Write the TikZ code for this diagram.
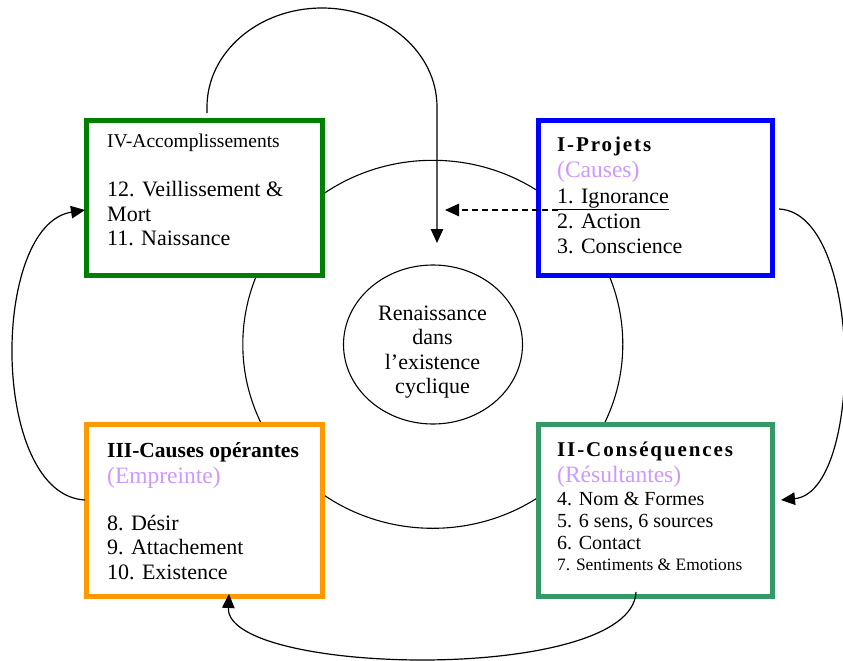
\documentclass[tikz,border=0pt]{standalone}
\usepackage{fontspec}
\setmainfont{Liberation Serif}
\newfontfamily\hdfont[LetterSpace=9]{Liberation Serif}
\usetikzlibrary{arrows.meta,shapes.geometric}
\definecolor{cgreen}{HTML}{008000}
\definecolor{cblue}{HTML}{0000FF}
\definecolor{corange}{HTML}{FF9900}
\definecolor{csea}{HTML}{339966}
\definecolor{clav}{HTML}{CC99FF}
\begin{document}
\begin{tikzpicture}[x=1pt,y=-1pt,
  box/.style={draw, fill=white, line width=5pt, rectangle, inner sep=0pt},
  ring/.style={draw, ellipse, line width=1.1pt, inner sep=0pt},
  txt/.style={anchor=base west, inner sep=0pt, font=\fontsize{22pt}{24.5pt}\selectfont},
  small/.style={txt, font=\fontsize{20pt}{22pt}\selectfont},
  tiny/.style={txt, font=\fontsize{17.4pt}{20pt}\selectfont},
  sub/.style={txt, text=clav, font=\fontsize{23.5pt}{26pt}\selectfont},
  head/.style={txt, font=\fontsize{21pt}{24pt}\hdfont\bfseries},
  headp/.style={txt, font=\fontsize{21.5pt}{24pt}\selectfont\bfseries},
  ctxt/.style={anchor=base, inner sep=0pt, font=\fontsize{22pt}{24.5pt}\selectfont},
  conn/.style={line width=1.2pt, -{Triangle[length=14pt,width=12.5pt]}},
  dconn/.style={conn, dash pattern=on 6pt off 4pt}
]
\useasboundingbox (0,0) rectangle (843,661);
% rings
\node[ring, minimum width=380pt, minimum height=368pt] (outer) at (432.8,344.3) {};
\node[ring, minimum width=179pt, minimum height=159pt] (core) at (433,344.5) {};
\node[ctxt] (c1) at (432.5,320) {Renaissance};
\node[ctxt] (c2) at (432.5,344.3) {dans};
\node[ctxt] (c3) at (432.5,369) {l’existence};
\node[ctxt] (c4) at (432.5,393.3) {cyclique};
% boxes
\node[box, draw=cgreen, minimum width=236pt, minimum height=155pt] (b4) at (204.5,197.5) {};
\node[box, draw=cblue, minimum width=234pt, minimum height=155.5pt] (b1) at (655,197.75) {};
\node[box, draw=corange, minimum width=235.5pt, minimum height=171.5pt] (b3) at (204.25,510.25) {};
\node[box, draw=csea, minimum width=234.5pt, minimum height=171.5pt] (b2) at (655.25,510.25) {};
% box IV text
\node[txt, font=\fontsize{19.5pt}{22pt}\selectfont] (t41) at (107,147) {IV-Accomplissements};
\node[txt] (t42) at (107,196) {12. Veillissement \&};
\node[txt] (t43) at (107,221) {Mort};
\node[txt] (t44) at (107,245) {11. Naissance};
% box I text
\node[head] (t11) at (557,151) {I-Projets};
\node[sub] (t12) at (557,177) {(Causes)};
\node[txt] (t13) at (557,203) {\underline{1. Ignorance}};
\node[txt] (t14) at (557,228) {2. Action};
\node[txt] (t15) at (557,253) {3. Conscience};
% box III text
\node[headp] (t31) at (107,457) {III-Causes opérantes};
\node[sub] (t32) at (107,483) {(Empreinte)};
\node[txt] (t33) at (107,530) {8. Désir};
\node[txt] (t34) at (107,554) {9. Attachement};
\node[txt] (t35) at (107,579) {10. Existence};
% box II text
\node[head] (t21) at (557,456) {II-Conséquences};
\node[sub] (t22) at (557,482) {(Résultantes)};
\node[small] (t23) at (557,505) {4. Nom \& Formes};
\node[small] (t24) at (557,527) {5. 6 sens, 6 sources};
\node[small] (t25) at (557,549) {6. Contact};
\node[tiny] (t26) at (557,570) {7. Sentiments \& Emotions};
% connector end points
\coordinate (p4top) at (207,113);
\coordinate (pdown) at (437,243);
\coordinate (p1L) at (558,210);
\coordinate (pdash) at (445,210);
\coordinate (p1R) at (779,209);
\coordinate (p2R) at (781,500);
\coordinate (p2B) at (636,592);
\coordinate (p3B) at (229,594);
\coordinate (p3L) at (85,500);
\coordinate (p4L) at (85,210);
% connectors
\draw[conn] (p4top) -- ++(0,-6) arc[start angle=180, end angle=0, x radius=115pt, y radius=99pt] -- (pdown);
\draw[dconn] (p1L) -- (pdash);
\draw[conn] (p1R) .. controls (864,213) and (864,492) .. (p2R);
\draw[conn] (p2B) .. controls (632,684) and (225,676) .. (p3B);
\draw[conn] (p3L) .. controls (-10,495) and (-10,225) .. (p4L);
\end{tikzpicture}
\end{document}
